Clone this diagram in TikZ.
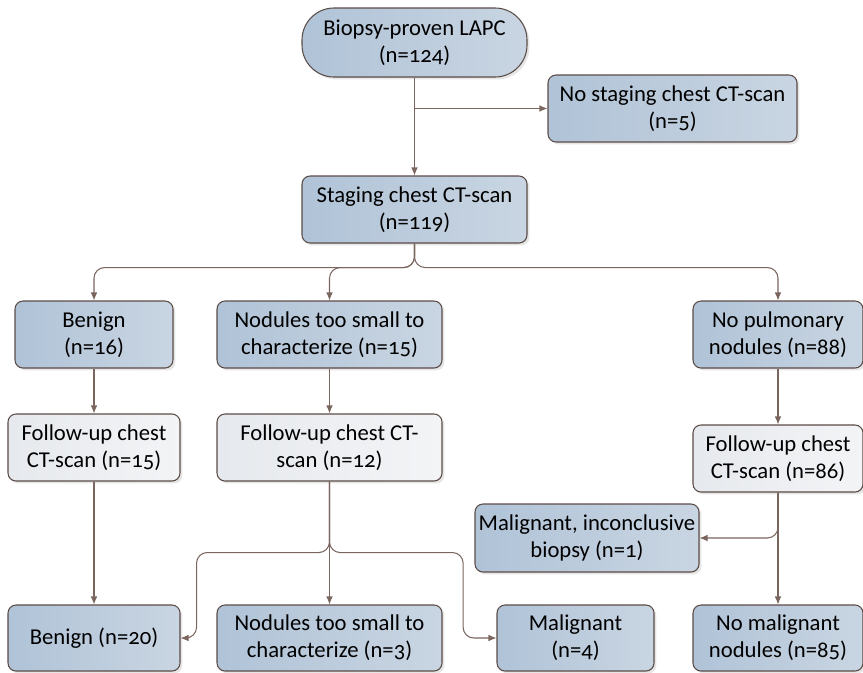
\documentclass[tikz,border=0pt]{standalone}
\usepackage{fontspec}
\setmainfont[Numbers=OldStyle]{Carlito}
\usetikzlibrary{%
    arrows.meta,
    calc,
    positioning,
    shadows
}
\definecolor{boxdark}{HTML}{B0C3D7}
\definecolor{boxlight}{HTML}{C9D5E2}
\definecolor{greydark}{HTML}{E6E9ED}
\definecolor{greylight}{HTML}{F3F4F6}
\definecolor{edgecol}{HTML}{5B4C47}
\definecolor{linecol}{HTML}{7A665F}
\tikzset{flowarrow/.style = {draw=linecol, line width=0.8pt, -{Latex[length=6pt,width=5pt]}}}
\tikzset{boxsize/.style 2 args = {minimum width=#1*0.75pt, minimum height=#2*0.75pt}}
\tikzset{bluebox/.style = {draw=edgecol, line width=0.8pt, rounded corners=6pt,
    left color=boxdark, right color=boxlight, align=center, inner sep=0pt,
    drop shadow={shadow xshift=1.8pt, shadow yshift=-1.8pt, opacity=0.2, fill=black!50},
    font=\fontsize{17}{20.5}\selectfont}}
\tikzset{greybox/.style = {bluebox, left color=greydark, right color=greylight}}

\begin{document}
\begin{tikzpicture}[x=0.75pt, y=-0.75pt]
    \useasboundingbox (0,0) rectangle (863,672);

    % top of the chart
    \node[bluebox, boxsize={225}{69}, rounded corners=24pt] (top) at (414.5,42.5) {Biopsy-proven LAPC\\(n=124)};
    \node[bluebox, boxsize={249}{67}] (nostage) at (672.5,108.5) {No staging chest CT-scan\\(n=5)};
    \node[bluebox, boxsize={225}{67}] (staging) at (414.5,209.5) {Staging chest CT-scan\\(n=119)};

    % first findings
    \node[bluebox, boxsize={158}{67}] (benignA) at (94,334.5) {Benign\\(n=16)};
    \node[bluebox, boxsize={225}{67}] (smallA) at (329.5,334.5) {Nodules too small to\\characterize (n=15)};
    \node[bluebox, boxsize={170}{67}] (nopulm) at (778,334.5) {No pulmonary\\nodules (n=88)};

    % follow-up scans
    \node[greybox, boxsize={172}{67}] (fuA) at (94,447.5) {Follow-up chest\\CT-scan (n=15)};
    \node[greybox, boxsize={225}{67}] (fuB) at (329.5,447.5) {Follow-up chest CT-\\scan (n=12)};
    \node[greybox, boxsize={170}{67}] (fuC) at (778,458.5) {Follow-up chest\\CT-scan (n=86)};

    % outcomes
    \node[bluebox, boxsize={224}{68}] (malinc) at (587,538) {Malignant, inconclusive\\biopsy (n=1)};
    \node[bluebox, boxsize={172}{66}] (benignB) at (94,638) {Benign (n=20)};
    \node[bluebox, boxsize={225}{66}] (smallB) at (329.5,638) {Nodules too small to\\characterize (n=3)};
    \node[bluebox, boxsize={157}{66}] (malig) at (575.5,638) {Malignant\\(n=4)};
    \node[bluebox, boxsize={170}{66}] (nomal) at (778,638) {No malignant\\nodules (n=85)};

    % straight edges
    \foreach \Source/\Target in {%
        top/staging,
        benignA/fuA,
        smallA/fuB,
        nopulm/fuC,
        fuA/benignB,
        fuB/smallB,
        fuC/nomal%
        }
        \draw[flowarrow] (\Source) -- (\Target);

    % side branches
    \draw[flowarrow] (top.south |- nostage.west) -- (nostage.west);
    \draw[flowarrow, rounded corners=8pt] (fuC.south) |- (malinc.east);

    % split below staging
    \foreach \Target in {benignA, smallA, nopulm}
        \draw[flowarrow, rounded corners=8pt] (staging.south) -- ++(0,24) -| (\Target.north);

    % split below follow-up
    \draw[flowarrow, rounded corners=8pt] (fuB.south) -- ++(0,71) -| ([xshift=12pt]benignB.east) -- (benignB.east);
    \draw[flowarrow, rounded corners=8pt] (fuB.south) -- ++(0,71) -| ([xshift=-25pt]malig.west) -- (malig.west);
\end{tikzpicture}
\end{document}
